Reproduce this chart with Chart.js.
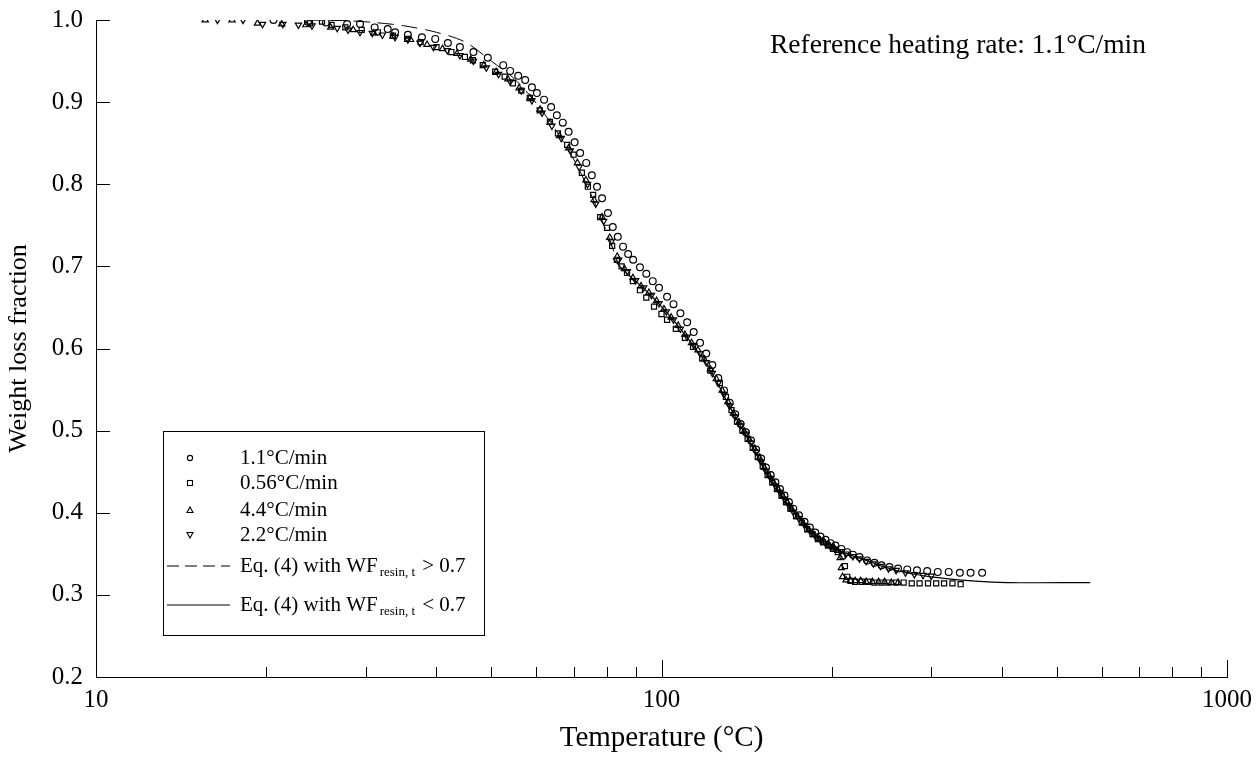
<!DOCTYPE html>
<html>
<head>
<meta charset="utf-8">
<script src="https://cdn.jsdelivr.net/npm/chart.js@4.4.1/dist/chart.umd.min.js"></script>
<style>
html,body{margin:0;padding:0;background:#fff;}
#wrap{position:relative;width:1260px;height:761px;}
canvas{display:block;}
</style>
</head>
<body>
<div id="wrap"><canvas id="c" width="1260" height="761"></canvas></div>
<script>
// ---- data (temperature in °C, weight loss fraction) ----
const tempCirc = [20.6,23.7,25.5,27.8,29.3,31.1,32.8,33.8,35.6,37.7,39.8,41.9,44,46.5,49.3,52.5,54,55.8,57.4,59,60.2,62,63.8,65.3,66.9,68.5,70.2,71.8,73.6,75.3,76.9,78.5,80.4,82,83.7,85.5,87.3,89.1,91.6,94,96.5,99,102.3,105,108,111,114,117,120,123,126,129,132,135,138,141,144,147,150,153,156,159,162,165,168,171,175,179,183,187,191,195,199,203,208,213,218,224,231,238,245,253,262,272,283,295,308,322,337,352,369];
const wfCirc   = [1.000,0.998,0.997,0.995,0.995,0.991,0.989,0.985,0.982,0.979,0.977,0.972,0.967,0.961,0.954,0.945,0.938,0.932,0.927,0.918,0.911,0.903,0.894,0.884,0.875,0.864,0.851,0.838,0.826,0.811,0.797,0.783,0.765,0.748,0.736,0.724,0.715,0.708,0.699,0.691,0.682,0.674,0.663,0.654,0.643,0.632,0.620,0.607,0.594,0.580,0.564,0.549,0.534,0.520,0.508,0.498,0.488,0.477,0.466,0.455,0.446,0.437,0.429,0.421,0.413,0.405,0.397,0.389,0.382,0.376,0.371,0.367,0.363,0.360,0.356,0.352,0.349,0.346,0.342,0.339,0.336,0.334,0.332,0.331,0.330,0.329,0.328,0.328,0.327,0.327,0.327];

const tempSq = [23.9,25.1,26.1,27.6,29.5,31.5,33.5,35.5,37.5,40,42.5,44.9,46.4,48.3,50.8,52.8,54.6,56.5,58.5,60.9,63.5,65.6,68.1,69.9,72.3,74.1,75.7,77.9,80.1,81.8,83.4,85,86.9,89,91.6,94,97,100,102.3,106,110,113.7,118,122,126.8,130,133,136,139,142,145,148,151,154,157,160,163,166,169,173,177,181,185,189,193,197,201,205,209,211,213,216,220,226,232,238,245,252,260,268,277,286,296,306,316,327,338];
const wfSq   = [0.996,0.998,0.994,0.991,0.988,0.985,0.981,0.977,0.973,0.967,0.961,0.955,0.951,0.945,0.937,0.931,0.923,0.914,0.905,0.890,0.876,0.862,0.848,0.836,0.814,0.797,0.787,0.760,0.747,0.725,0.708,0.700,0.692,0.682,0.671,0.662,0.651,0.642,0.635,0.624,0.613,0.602,0.588,0.573,0.558,0.541,0.525,0.511,0.500,0.490,0.479,0.468,0.457,0.446,0.437,0.429,0.421,0.413,0.405,0.396,0.388,0.380,0.374,0.368,0.364,0.360,0.356,0.352,0.347,0.335,0.322,0.317,0.316,0.316,0.316,0.315,0.315,0.315,0.315,0.315,0.314,0.314,0.314,0.314,0.314,0.314,0.313];

const tempTri = [15.6,17.4,19.3,21.3,23.5,26,28.5,31,33.5,36,38.5,41,43.5,46,48.5,51,53.5,56,58.5,61,63.5,66,68.5,71,73.5,76,78.5,81,83.5,86,89,92,95,98,101,104,107,110,113,116,119,122,125,128,131,134,137,140,143,146,149,152,155,158,161,164,167,170,174,178,182,186,190,194,198,202,205,207,208,209,212,216,220,225,230,236,242,248,255,262];
const wfTri   = [1.000,1.000,0.996,0.995,0.994,0.991,0.988,0.984,0.980,0.976,0.970,0.965,0.959,0.952,0.945,0.937,0.928,0.917,0.905,0.891,0.875,0.859,0.844,0.826,0.805,0.781,0.760,0.735,0.712,0.697,0.686,0.676,0.668,0.658,0.648,0.638,0.628,0.617,0.607,0.598,0.587,0.575,0.563,0.549,0.535,0.521,0.510,0.499,0.489,0.478,0.467,0.455,0.445,0.436,0.428,0.420,0.412,0.404,0.395,0.387,0.379,0.373,0.368,0.364,0.360,0.357,0.354,0.345,0.333,0.322,0.318,0.317,0.317,0.317,0.316,0.316,0.316,0.316,0.315,0.315];

const tempInv = [16.4,18.2,19.7,21.4,22.8,24.1,26.7,27.9,29.3,30.8,32.1,33.8,35.6,37.4,39.5,41.8,44,46.5,49,51.5,54,56.5,59,61.5,64,66.5,69,71.5,74,76.5,79,81.5,84,87,90,93,96,99,102,105,108,111,114,117,120,123,126,129,132,135,138,141,144,147,150,153,156,159,162,165,168,171,175,179,183,187,191,195,199,203,207,212,218,224,230,237,244,252,260,270,280,290,300];
const wfInv   = [1.000,1.000,0.995,0.995,0.994,0.993,0.990,0.988,0.985,0.984,0.982,0.979,0.976,0.972,0.967,0.963,0.957,0.950,0.942,0.934,0.925,0.914,0.902,0.887,0.871,0.856,0.841,0.821,0.800,0.776,0.755,0.730,0.708,0.694,0.683,0.674,0.665,0.655,0.645,0.635,0.624,0.614,0.604,0.594,0.583,0.570,0.558,0.544,0.530,0.517,0.506,0.496,0.485,0.474,0.462,0.451,0.442,0.433,0.425,0.417,0.409,0.401,0.393,0.385,0.378,0.372,0.367,0.363,0.359,0.356,0.353,0.350,0.347,0.344,0.341,0.338,0.335,0.332,0.330,0.327,0.325,0.324,0.323];

const tempEqHigh = [23.5,26,28,31,35,40,45,50,55,60,65,70,75,80,83];
const wfEqHigh   = [1.000,0.9995,0.999,0.997,0.993,0.985,0.973,0.950,0.928,0.899,0.866,0.830,0.788,0.742,0.712];

const tempEqLow = [82,86,90,95,100,106,112,118,124,130,136,142,148,154,160,168,176,185,195,205,215,230,250,275,300,340,410,573];
const wfEqLow   = [0.710,0.694,0.682,0.667,0.651,0.631,0.610,0.589,0.565,0.538,0.513,0.491,0.469,0.447,0.430,0.409,0.392,0.376,0.364,0.355,0.349,0.342,0.333,0.326,0.322,0.318,0.315,0.315];

const xMajorTicks = [10, 100, 1000];
const xMinorTicks = [20,30,40,50,60,70,80,90,200,300,400,500,600,700,800,900];
const yTicks = [0.2,0.3,0.4,0.5,0.6,0.7,0.8,0.9,1.0];

const seriesLabels = ['1.1°C/min','0.56°C/min','4.4°C/min','2.2°C/min'];
const annotationText = 'Reference heating rate: 1.1°C/min';

const pts = (xs, ys) => xs.map((x, i) => ({x: x, y: ys[i]}));
const FONT = "'Liberation Serif', 'Times New Roman', serif";

const markerBase = {showLine:false, borderColor:'#000', backgroundColor:'rgba(255,255,255,0)', borderWidth:1.2, pointRadius:3.4};

const datasets = [
  Object.assign({label:seriesLabels[0], data:pts(tempCirc, wfCirc), pointStyle:'circle'}, markerBase),
  Object.assign({label:seriesLabels[1], data:pts(tempSq, wfSq), pointStyle:'rect'}, markerBase, {pointRadius:3.6}),
  Object.assign({label:seriesLabels[2], data:pts(tempTri, wfTri), pointStyle:'triangle'}, markerBase, {pointRadius:3.6}),
  Object.assign({label:seriesLabels[3], data:pts(tempInv, wfInv), pointStyle:'triangle', rotation:180}, markerBase, {pointRadius:3.6}),
  {label:'Eq. (4) with WF resin,t > 0.7', data:pts(tempEqHigh, wfEqHigh), showLine:true, borderColor:'#000', borderWidth:1, borderDash:[16,8], pointRadius:0, tension:0.3, fill:false},
  {label:'Eq. (4) with WF resin,t < 0.7', data:pts(tempEqLow, wfEqLow), showLine:true, borderColor:'#000', borderWidth:1.2, pointRadius:0, tension:0.3, fill:false}
];

const decorPlugin = {
  id:'decor',
  afterDraw(chart){
    const ctx = chart.ctx;
    const xs = chart.scales.x, ys = chart.scales.y;
    const left = chart.chartArea.left, bottom = chart.chartArea.bottom;
    ctx.save();
    ctx.strokeStyle = '#000';
    ctx.lineWidth = 1;
    yTicks.forEach(v => {
      const y = Math.round(ys.getPixelForValue(v)) + 0.5;
      ctx.beginPath(); ctx.moveTo(left, y); ctx.lineTo(left + 14, y); ctx.stroke();
    });
    xMajorTicks.forEach(v => {
      const x = Math.round(xs.getPixelForValue(v)) + 0.5;
      ctx.beginPath(); ctx.moveTo(x, bottom); ctx.lineTo(x, bottom - 17); ctx.stroke();
    });
    xMinorTicks.forEach(v => {
      const x = Math.round(xs.getPixelForValue(v)) + 0.5;
      ctx.beginPath(); ctx.moveTo(x, bottom); ctx.lineTo(x, bottom - 10); ctx.stroke();
    });

    ctx.fillStyle = '#000';
    ctx.font = '27.5px ' + FONT;
    ctx.textBaseline = 'middle';
    ctx.textAlign = 'left';
    ctx.fillText(annotationText, 770, 46);

    const bx = 163.5, by = 431.5, bw = 321, bh = 204;
    ctx.fillStyle = '#fff';
    ctx.fillRect(bx, by, bw, bh);
    ctx.strokeRect(bx, by, bw, bh);
    ctx.fillStyle = '#000';
    const mx = 190, tx = 240;
    const rows = [458, 483, 510, 535];
    ctx.lineWidth = 1.1;
    ctx.beginPath(); ctx.arc(mx, rows[0], 2.6, 0, Math.PI*2); ctx.stroke();
    ctx.strokeRect(mx - 2.5, rows[1] - 2.5, 5, 5);
    ctx.beginPath(); ctx.moveTo(mx, rows[2] - 3); ctx.lineTo(mx + 3, rows[2] + 2.5); ctx.lineTo(mx - 3, rows[2] + 2.5); ctx.closePath(); ctx.stroke();
    ctx.beginPath(); ctx.moveTo(mx, rows[3] + 3); ctx.lineTo(mx + 3, rows[3] - 2.5); ctx.lineTo(mx - 3, rows[3] - 2.5); ctx.closePath(); ctx.stroke();
    ctx.font = '21px ' + FONT;
    ctx.textBaseline = 'middle';
    for (let i = 0; i < 4; i++) ctx.fillText(seriesLabels[i], tx, rows[i]);

    const lineRows = [566, 605];
    ctx.lineWidth = 1;
    ctx.setLineDash([12, 6]);
    ctx.beginPath(); ctx.moveTo(167, lineRows[0]); ctx.lineTo(230, lineRows[0]); ctx.stroke();
    ctx.setLineDash([]);
    ctx.beginPath(); ctx.moveTo(167, lineRows[1]); ctx.lineTo(230, lineRows[1]); ctx.stroke();
    const sym = ['> 0.7', '< 0.7'];
    lineRows.forEach((ry, i) => {
      ctx.font = '21px ' + FONT;
      const s = 'Eq. (4) with WF';
      ctx.fillText(s, tx, ry);
      const w = ctx.measureText(s).width;
      ctx.font = '13px ' + FONT;
      const sub = 'resin, t';
      ctx.fillText(sub, tx + w + 2, ry + 7);
      const w2 = ctx.measureText(sub).width;
      ctx.font = '21px ' + FONT;
      ctx.fillText(' ' + sym[i], tx + w + 4 + w2, ry);
    });
    ctx.restore();
  }
};

new Chart(document.getElementById('c'), {
  type:'scatter',
  data:{datasets:datasets},
  plugins:[decorPlugin],
  options:{
    responsive:false,
    animation:false,
    devicePixelRatio:1,
    layout:{padding:{top:20, right:33, bottom:0, left:0}},
    plugins:{legend:{display:false}, tooltip:{enabled:false}},
    scales:{
      x:{
        type:'logarithmic', min:10, max:1000,
        afterBuildTicks(s){ s.ticks = xMajorTicks.map(v => ({value:v})); },
        afterFit(s){ s.height = 84; s.paddingLeft = 0; s.paddingRight = 0; },
        ticks:{color:'#000', font:{family:FONT, size:25}, padding:8, maxRotation:0, callback:(v)=>String(v)},
        grid:{display:false, drawTicks:false},
        border:{display:true, color:'#000', width:1},
        title:{display:true, text:'Temperature (°C)', color:'#000', font:{family:FONT, size:29}, padding:{top:4, bottom:5}}
      },
      y:{
        type:'linear', min:0.2, max:1.0,
        afterBuildTicks(s){ s.ticks = yTicks.map(v => ({value:v})); },
        afterFit(s){ s.width = 96; s.paddingTop = 0; s.paddingBottom = 0; },
        ticks:{color:'#000', font:{family:FONT, size:25}, padding:13, callback:(v)=>Number(v).toFixed(1)},
        grid:{display:false, drawTicks:false},
        border:{display:true, color:'#000', width:1},
        title:{display:true, text:'Weight loss fraction', color:'#000', font:{family:FONT, size:26}, padding:{top:4, bottom:4}}
      }
    }
  }
});
</script>
</body>
</html>
